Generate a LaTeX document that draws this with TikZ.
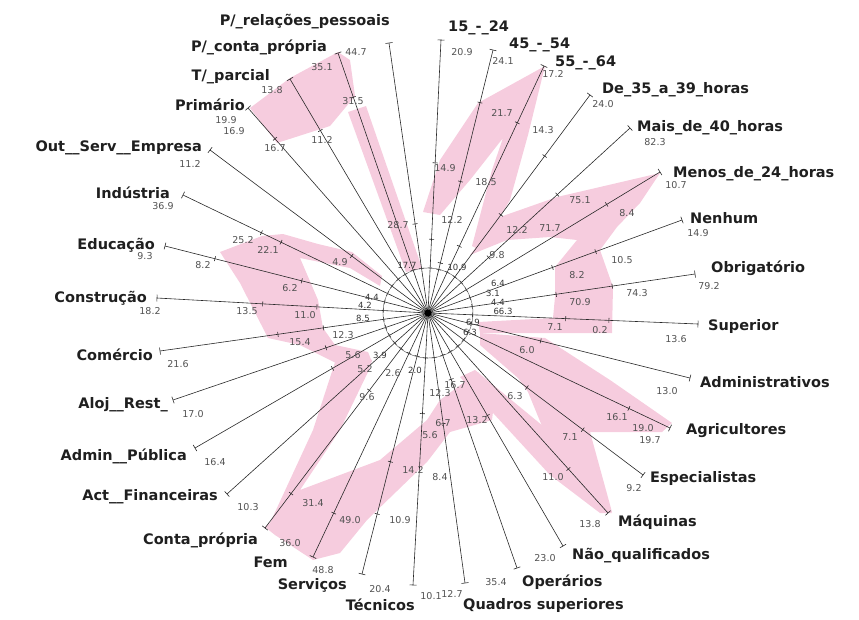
\documentclass[tikz,border=0pt]{standalone}
\usepackage{fontspec}
\setmainfont{DejaVu Sans}
\definecolor{bandpink}{RGB}{246,204,222}
\definecolor{inkgrey}{RGB}{40,40,40}
% one radial axis: name, end point, fractions where a tick sits
\newcommand\radaxis[3]{%
  \coordinate (#1) at (#2);
  \draw[axisline] (C) -- (#1) node[endcap,pos=1]{};
  \foreach \f in {#3} {\path (C) -- (#1) node[axtick,pos=\f]{};}
}
\begin{document}
\begin{tikzpicture}[x=1pt,y=-1pt,
  axisline/.style={draw=inkgrey, line width=0.6pt},
  axtick/.style={sloped, draw=inkgrey, line width=0.6pt, inner sep=0pt, minimum width=0pt, minimum height=5pt},
  endcap/.style={axtick, minimum height=7pt},
  band/.style={fill=bandpink, draw=none},
  lab/.style={font=\fontsize{14.5}{16}\selectfont\bfseries, text=black!88, inner sep=0pt},
  labl/.style={lab, anchor=east},
  labr/.style={lab, anchor=west},
  val/.style={font=\fontsize{9.5}{11}\selectfont, text=black!68, inner sep=0pt},
  sval/.style={font=\fontsize{8.5}{10}\selectfont, text=black!80, inner sep=0pt}]
\useasboundingbox (0,0) rectangle (859,619);
\coordinate (C) at (428,313);

% ---- shaded profile bands ----
\fill[band] (250,108) -- (290,78) -- (338,52) -- (350,60) -- (355,96) -- (330,126) -- (277,143) -- cycle;
\fill[band] (348,112) -- (366,106) -- (422,268) -- (406,272) -- cycle;
\fill[band] (478,103) -- (545,66) -- (528,135) -- (510,200) -- (480,250) -- (472,246) -- (492,170) -- (503,138) -- (470,180) -- (440,215) -- (423,212) -- (440,160) -- cycle;
\fill[band] (470,255) -- (500,217) -- (557,197) -- (600,187) -- (660,173) -- (640,203) -- (617,227) -- (600,250) -- (613,287) -- (612,333) -- (480,333) -- (478,322) -- (553,318) -- (555,297) -- (555,267) -- (577,240) -- (550,237) -- (507,240) -- cycle;
\fill[band] (480,333) -- (545,338) -- (610,380) -- (672,423) -- (662,432) -- (590,432) -- (612,512) -- (602,513) -- (560,470) -- (528,392) -- (518,378) -- (480,345) -- cycle;
\fill[band] (460,377) -- (475,370) -- (560,440) -- (612,513) -- (600,513) -- (550,475) -- cycle;
\fill[band] (220,252) -- (262,236) -- (283,234) -- (318,244) -- (352,252) -- (382,276) -- (380,286) -- (350,268) -- (300,258) -- (318,300) -- (323,328) -- (335,345) -- (368,352) -- (372,362) -- (340,365) -- (300,345) -- (268,338) -- (240,283) -- cycle;
\fill[band] (372,360) -- (368,372) -- (340,430) -- (300,490) -- (380,460) -- (427,420) -- (440,400) -- (470,378) -- (478,372) -- (495,395) -- (492,420) -- (450,432) -- (427,462) -- (367,520) -- (340,553) -- (313,560) -- (275,535) -- (265,527) -- (270,523) -- (313,430) -- (340,347) -- cycle;

% ---- radial axes ----
\radaxis{rel}{389,43}{0.165,0.33}
\radaxis{a1524}{441,40}{0.165,0.27,0.55}
\radaxis{a4554}{493,50}{0.165,0.19,0.5,0.8}
\radaxis{a5564}{544,66}{0.165,0.27,0.77}
\radaxis{h3539}{590,95}{0.165,0.45,0.72}
\radaxis{h40}{630,128}{0.165,0.3,0.64}
\radaxis{h24}{660,172}{0.165,0.77}
\radaxis{nenhum}{682,220}{0.165,0.49,0.66}
\radaxis{obrig}{695,274}{0.165,0.48,0.69}
\radaxis{super}{698,324}{0.165,0.51,0.67}
\radaxis{admin}{690,378}{0.165,0.43}
\radaxis{agric}{670,428}{0.165,0.83}
\radaxis{espec}{643,475}{0.165,0.46,0.72}
\radaxis{maq}{608,513}{0.165,0.78}
\radaxis{naoq}{563,546}{0.165,0.44}
\radaxis{oper}{517,568}{0.165,0.26}
\radaxis{quad}{465,583}{0.165,0.41}
\radaxis{tec}{413,585}{0.165,0.37}
\radaxis{serv}{362,574}{0.165,0.57,0.77}
\radaxis{fem}{313,557}{0.165,0.82}
\radaxis{contap}{265,528}{0.165,0.36,0.84}
\radaxis{actfin}{227,494}{0.165}
\radaxis{adminpub}{195,448}{0.165,0.41}
\radaxis{aloj}{173,400}{0.165,0.4}
\radaxis{comercio}{160,351}{0.165,0.39,0.56}
\radaxis{constr}{157,298}{0.165,0.41,0.61}
\radaxis{educ}{165,246}{0.165,0.48,0.81}
\radaxis{ind}{183,195}{0.165,0.6,0.68}
\radaxis{outserv}{210,150}{0.165,0.35}
\radaxis{prim}{248,108}{0.165,0.85}
\radaxis{tparc}{290,79}{0.165,0.78}
\radaxis{pconta}{338,53}{0.165,0.83}
\draw[inkgrey!80, line width=0.4pt] (C) circle[radius=45];
\fill[black] (C) circle[radius=3.5];

% ---- category names ----
\node[labl] (t-rel) at (390,22) {P/\_relações\_pessoais};
\node[labl] (t-pconta) at (327,47) {P/\_conta\_própria};
\node[labl] (t-tparc) at (270,77) {T/\_parcial};
\node[labl] (t-prim) at (245,105) {Primário};
\node[labl] (t-outserv) at (202,148) {Out\_\_Serv\_\_Empresa};
\node[labl] (t-ind) at (170,193) {Indústria};
\node[labl] (t-educ) at (155,245) {Educação};
\node[labl] (t-constr) at (147,298) {Construção};
\node[labl] (t-comercio) at (153,355) {Comércio};
\node[labl] (t-aloj) at (168,405) {Aloj\_\_Rest\_};
\node[labl] (t-adminpub) at (187,456) {Admin\_\_Pública};
\node[labl] (t-actfin) at (218,497) {Act\_\_Financeiras};
\node[labl] (t-contap) at (258,540) {Conta\_própria};
\node[labl] (t-fem) at (288,562) {Fem};
\node[labl] (t-serv) at (347,585) {Serviços};
\node[labl] (t-tec) at (415,605) {Técnicos};
\node[labr] (t-a1524) at (448,28) {15\_-\_24};
\node[labr] (t-a4554) at (509,45) {45\_-\_54};
\node[labr] (t-a5564) at (555,63) {55\_-\_64};
\node[labr] (t-h3539) at (602,90) {De\_35\_a\_39\_horas};
\node[labr] (t-h40) at (637,128) {Mais\_de\_40\_horas};
\node[labr] (t-h24) at (673,174) {Menos\_de\_24\_horas};
\node[labr] (t-nenhum) at (690,218) {Nenhum};
\node[labr] (t-obrig) at (711,268) {Obrigatório};
\node[labr] (t-super) at (708,326) {Superior};
\node[labr] (t-admin) at (700,382) {Administrativos};
\node[labr] (t-agric) at (686,431) {Agricultores};
\node[labr] (t-espec) at (650,478) {Especialistas};
\node[labr] (t-maq) at (618,522) {Máquinas};
\node[labr] (t-naoq) at (572,556) {Não\_qualificados};
\node[labr] (t-oper) at (522,582) {Operários};
\node[labr] (t-quad) at (463,605) {Quadros superiores};

% ---- end values ----
\node[val] (v-rel) at (356,52) {44.7};
\node[val] (v-a1524) at (462,52) {20.9};
\node[val] (v-a4554) at (503,61) {24.1};
\node[val] (v-a5564) at (553,74) {17.2};
\node[val] (v-h3539) at (603,104) {24.0};
\node[val] (v-h40) at (655,142) {82.3};
\node[val] (v-h24) at (676,185) {10.7};
\node[val] (v-nenhum) at (698,233) {14.9};
\node[val] (v-obrig) at (709,286) {79.2};
\node[val] (v-super) at (676,339) {13.6};
\node[val] (v-admin) at (667,391) {13.0};
\node[val] (v-agric) at (643,428) {19.0};
\node[val] (v-agric2) at (650,440) {19.7};
\node[val] (v-espec) at (634,488) {9.2};
\node[val] (v-maq) at (590,524) {13.8};
\node[val] (v-naoq) at (545,558) {23.0};
\node[val] (v-oper) at (496,582) {35.4};
\node[val] (v-tec) at (431,596) {10.1};
\node[val] (v-quad) at (452,594) {12.7};
\node[val] (v-serv) at (380,589) {20.4};
\node[val] (v-fem) at (323,570) {48.8};
\node[val] (v-contap) at (290,543) {36.0};
\node[val] (v-actfin) at (248,507) {10.3};
\node[val] (v-adminpub) at (215,462) {16.4};
\node[val] (v-aloj) at (193,414) {17.0};
\node[val] (v-comercio) at (178,364) {21.6};
\node[val] (v-constr) at (150,311) {18.2};
\node[val] (v-educ) at (145,256) {9.3};
\node[val] (v-ind) at (163,206) {36.9};
\node[val] (v-outserv) at (190,164) {11.2};
\node[val] (v-prim) at (226,120) {19.9};
\node[val] (v-prim2) at (234,131) {16.9};
\node[val] (v-tparc) at (272,90) {13.8};
\node[val] (v-pconta) at (322,67) {35.1};

% ---- values along the axes ----
\node[val] (m1) at (353,101) {31.5};
\node[val] (m2) at (322,140) {11.2};
\node[val] (m3) at (275,148) {16.7};
\node[val] (m4) at (398,225) {28.7};
\node[val] (m5) at (445,168) {14.9};
\node[val] (m6) at (452,220) {12.2};
\node[val] (m7) at (486,182) {18.5};
\node[val] (m8) at (502,113) {21.7};
\node[val] (m9) at (543,130) {14.3};
\node[val] (m10) at (497,255) {9.8};
\node[val] (m11) at (517,230) {12.2};
\node[val] (m12) at (550,228) {71.7};
\node[val] (m13) at (580,200) {75.1};
\node[val] (m14) at (627,213) {8.4};
\node[val] (m15) at (622,260) {10.5};
\node[val] (m16) at (577,275) {8.2};
\node[val] (m17) at (637,293) {74.3};
\node[val] (m18) at (580,302) {70.9};
\node[val] (m19) at (555,327) {7.1};
\node[val] (m20) at (600,330) {0.2};
\node[val] (m21) at (527,350) {6.0};
\node[val] (m22) at (515,396) {6.3};
\node[val] (m23) at (617,417) {16.1};
\node[val] (m24) at (570,437) {7.1};
\node[val] (m25) at (553,477) {11.0};
\node[val] (m26) at (477,420) {13.2};
\node[val] (m27) at (455,385) {16.7};
\node[val] (m28) at (440,393) {12.3};
\node[val] (m29) at (443,423) {6.7};
\node[val] (m30) at (430,435) {5.6};
\node[val] (m31) at (413,470) {14.2};
\node[val] (m32) at (440,477) {8.4};
\node[val] (m33) at (400,520) {10.9};
\node[val] (m34) at (350,520) {49.0};
\node[val] (m35) at (313,503) {31.4};
\node[val] (m36) at (367,397) {9.6};
\node[val] (m37) at (365,369) {5.2};
\node[val] (m38) at (393,373) {2.6};
\node[val] (m39) at (353,355) {5.6};
\node[val] (m40) at (343,335) {12.3};
\node[val] (m41) at (300,342) {15.4};
\node[val] (m42) at (247,311) {13.5};
\node[val] (m43) at (305,315) {11.0};
\node[val] (m44) at (290,288) {6.2};
\node[val] (m45) at (203,265) {8.2};
\node[val] (m46) at (243,240) {25.2};
\node[val] (m47) at (268,250) {22.1};
\node[val] (m48) at (340,262) {4.9};
\node[sval] (m49) at (365,305) {4.2};
\node[sval] (m50) at (363,318) {8.5};
\node[sval] (m51) at (498,283) {6.4};
\node[sval] (m52) at (493,293) {3.1};
\node[sval] (m53) at (498,302) {4.4};
\node[sval] (m54) at (503,311) {66.3};
\node[sval] (m55) at (473,322) {6.9};
\node[sval] (m56) at (470,332) {6.3};
\node[sval] (m57) at (407,265) {17.7};
\node[sval] (m58) at (457,267) {10.9};
\node[sval] (m59) at (372,297) {4.4};
\node[sval] (m60) at (415,370) {2.0};
\node[sval] (m61) at (380,355) {3.9};
\end{tikzpicture}
\end{document}
